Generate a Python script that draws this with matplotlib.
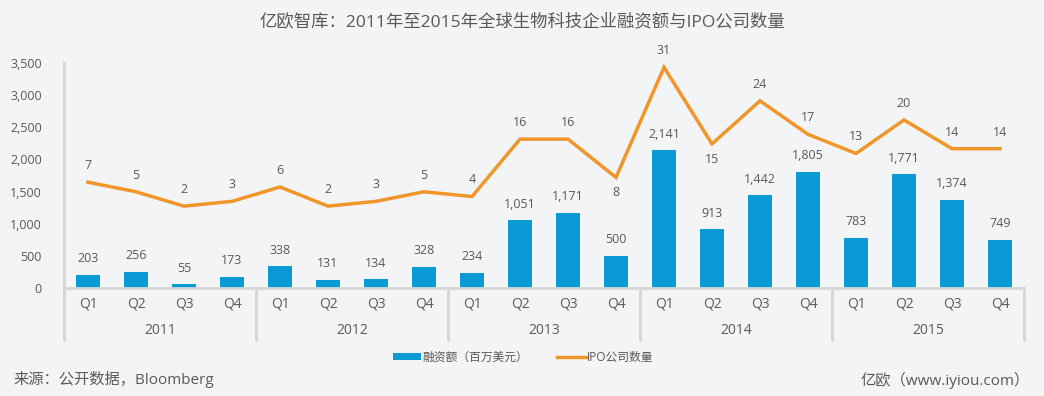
import matplotlib
matplotlib.use("Agg")
import matplotlib.pyplot as plt
from matplotlib.patches import Patch
from matplotlib.lines import Line2D
from matplotlib.ticker import FuncFormatter

plt.rcParams['font.family'] = ['Open Sans', 'Noto Sans CJK SC', 'DejaVu Sans']

years = ["2011", "2012", "2013", "2014", "2015"]
quarters = ["Q1", "Q2", "Q3", "Q4"]
funding = [203, 256, 55, 173, 338, 131, 134, 328, 234, 1051, 1171, 500,
           2141, 913, 1442, 1805, 783, 1771, 1374, 749]
ipo_count = [7, 5, 2, 3, 6, 2, 3, 5, 4, 16, 16, 8, 31, 15, 24, 17, 13, 20, 14, 14]

BAR_C = "#0a9ad6"
LINE_C = "#f0962b"
TXT_C = "#595959"
GRID_C = "#d4d6da"
LABEL_BELOW = {11, 13}  # line points whose label sits under the point

fig = plt.figure(figsize=(10.44, 3.96), dpi=100)
fig.patch.set_facecolor("#f3f4f6")
ax = fig.add_axes([64 / 1044, 1 - 288 / 396, 960 / 1044, 225 / 396])
ax.set_facecolor("none")

x = list(range(len(funding)))
ax.bar(x, funding, width=0.5, color=BAR_C, zorder=2)
ax.set_xlim(-0.5, len(funding) - 0.5)
ax.set_ylim(0, 3500)
ax.set_yticks(range(0, 3501, 500))
ax.yaxis.set_major_formatter(FuncFormatter(lambda v, p: f"{int(v):,}"))
ax.tick_params(axis="y", length=0, pad=16, labelsize=9, labelcolor=TXT_C)
ax.set_xticks([])
for s in ax.spines.values():
    s.set_visible(False)

for xi, v in zip(x, funding):
    ax.annotate(f"{v:,}", (xi, v), xytext=(0, 11.5), textcoords="offset points",
                ha="center", va="center", fontsize=9, color=TXT_C)

# axis lines and category separators
ax.plot([-0.5, len(funding) - 0.5], [0, 0], color=GRID_C, lw=2, clip_on=False, zorder=3)
trans = ax.get_xaxis_transform()
ax.plot([-0.5, -0.5], [-0.231, 1.0], color=GRID_C, lw=2, transform=trans, clip_on=False)
for k in range(1, len(years) + 1):
    xs = k * 4 - 0.5
    ax.plot([xs, xs], [-0.231, 0], color=GRID_C, lw=2, transform=trans, clip_on=False)
for xi in x:
    ax.text(xi, -0.071, quarters[xi % 4], transform=trans, ha="center", va="center",
            fontsize=10, color=TXT_C)
for k, yr in enumerate(years):
    ax.text(k * 4 + 1.5, -0.19, yr, transform=trans, ha="center", va="center",
            fontsize=10, color=TXT_C)

ax2 = ax.twinx()
ax2.set_ylim(-15.1, 31.9)
ax2.axis("off")
ax2.plot(x, ipo_count, color=LINE_C, lw=2.5, zorder=3, solid_joinstyle="miter")
for xi, v in zip(x, ipo_count):
    dy = -11 if xi in LABEL_BELOW else 12
    ax2.annotate(str(v), (xi, v), xytext=(0, dy), textcoords="offset points",
                 ha="center", va="center", fontsize=9, color=TXT_C)

fig.text(522 / 1044, 1 - 22 / 396, "亿欧智库：2011年至2015年全球生物科技企业融资额与IPO公司数量",
         ha="center", va="center", fontsize=12.5, color=TXT_C)

handles = [Patch(facecolor=BAR_C, edgecolor="none"),
           Line2D([], [], color=LINE_C, lw=2.5)]
fig.legend(handles, ["融资额（百万美元）", "IPO公司数量"], loc="center",
           bbox_to_anchor=(523 / 1044, 1 - 357 / 396), ncol=2, frameon=False,
           fontsize=8.5, handlelength=2.4, handleheight=0.5, handletextpad=0.1,
           columnspacing=2.5, labelcolor=TXT_C)

fig.text(13 / 1044, 1 - 380 / 396, "来源：公开数据，Bloomberg", ha="left", va="center",
         fontsize=11, color=TXT_C)
fig.text(1030 / 1044, 1 - 380 / 396, "亿欧（www.iyiou.com）", ha="right", va="center",
         fontsize=11, color=TXT_C)

fig.savefig("out.png", dpi=100, facecolor=fig.get_facecolor())
